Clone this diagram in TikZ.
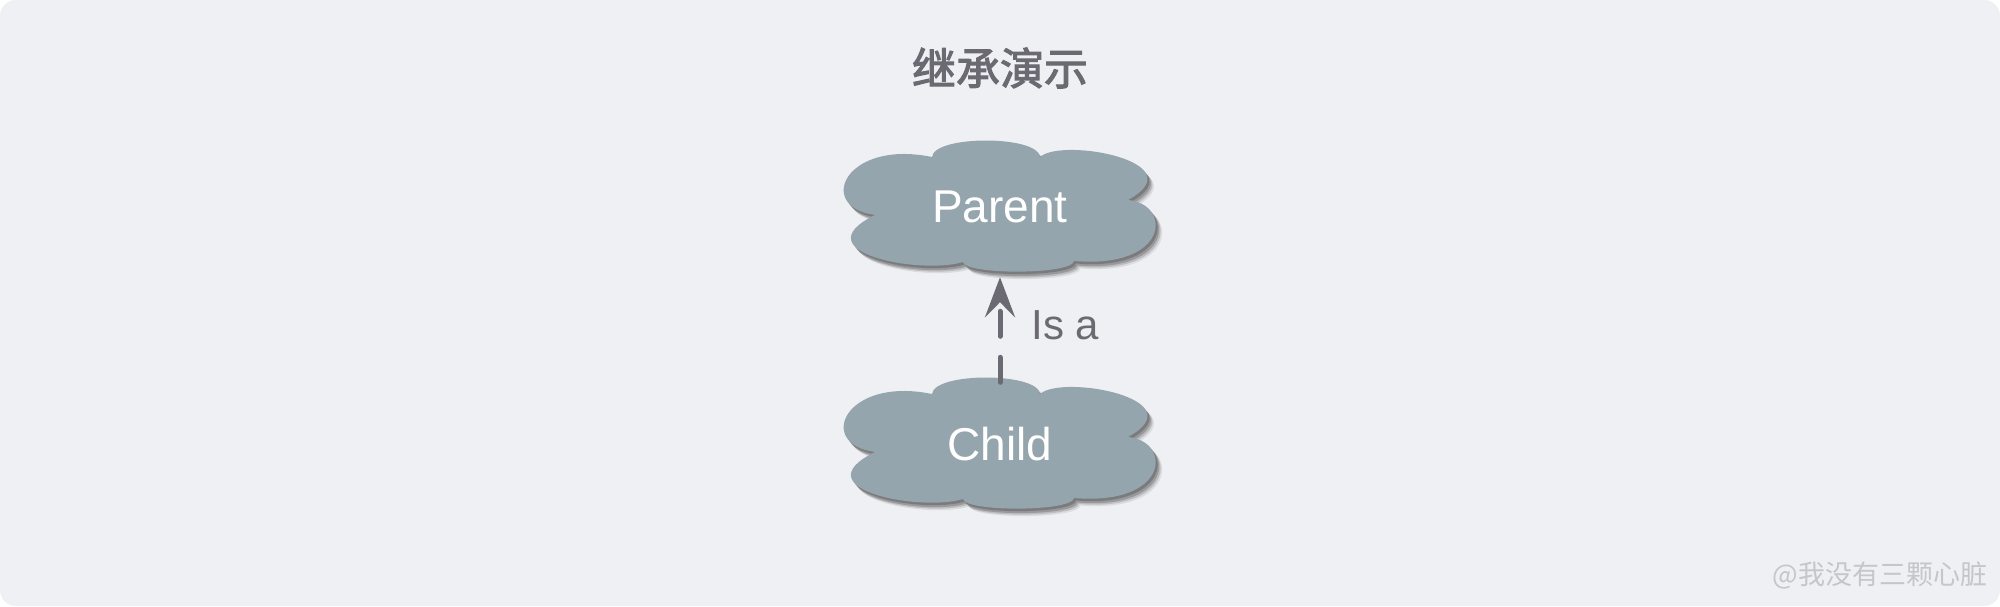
\documentclass[tikz,border=0pt]{standalone}
\usepackage{fontspec}
\setmainfont{Liberation Sans}
\newfontfamily\cjkfont{Noto Sans CJK SC}
\newfontfamily\cjktitle[FakeBold=2.5]{Noto Sans CJK SC}
\usetikzlibrary{arrows.meta}
\definecolor{bgc}{HTML}{EFF0F3}
\definecolor{cloudc}{HTML}{95A5AD}
\definecolor{inkc}{HTML}{6B6A73}
\definecolor{wmc}{HTML}{C4C6CC}
\tikzset{
  cloudpic/.pic={
    \foreach \dx/\dy/\op in {2/2.5/0.28, 3.5/4.5/0.26, 5/6/0.18, 6.5/7.5/0.1}{
      \fill[black!80, opacity=\op, shift={(\dx,\dy)}]
        (-68,-50) .. controls (-66,-72) and (38,-72) .. (40,-50)
        .. controls (62,-70) and (197,-45) .. (128,-7)
        .. controls (172,-3) and (170,62) .. (74,54)
        .. controls (72,68) and (-35,68) .. (-37,55)
        .. controls (-80,68) and (-200,45) .. (-125,8)
        .. controls (-185,0) and (-155,-68) .. (-68,-50) -- cycle;
    }
    \fill[cloudc]
        (-68,-50) .. controls (-66,-72) and (38,-72) .. (40,-50)
        .. controls (62,-70) and (197,-45) .. (128,-7)
        .. controls (172,-3) and (170,62) .. (74,54)
        .. controls (72,68) and (-35,68) .. (-37,55)
        .. controls (-80,68) and (-200,45) .. (-125,8)
        .. controls (-185,0) and (-155,-68) .. (-68,-50) -- cycle;
  },
  cloudtext/.style={font=\fontsize{46}{50}\selectfont, text=white, inner sep=0pt,
    minimum width=300pt, minimum height=130pt},
  isa/.style={draw=inkc, line width=5pt, line cap=round, dash pattern=on 25pt off 21pt,
    shorten <=-3.5pt, shorten >=5pt, -{Stealth[length=40pt,width=30pt,inset=15pt]}},
  isalabel/.style={font=\fontsize{42}{46}\selectfont, text=inkc, inner sep=0pt,
    anchor=west, xshift=29pt},
  titlestyle/.style={font=\cjktitle\fontsize{44}{48}\selectfont, text=inkc},
  wmstyle/.style={font=\cjkfont\fontsize{27}{30}\selectfont, text=wmc}
}
\begin{document}
\begin{tikzpicture}[x=1pt,y=-1pt]
\fill[white] (0,0) rectangle (2000,606);
\fill[bgc, rounded corners=16pt] (0,0) rectangle (2000,606);
\useasboundingbox (0,0) rectangle (2000,606);
\node[titlestyle] (title) at (1000,68) {继承演示};
\pic at (1000,207) {cloudpic};
\pic at (1000,444) {cloudpic};
\node[cloudtext] (parent) at (1000,207) {Parent};
\node[cloudtext] (child) at (1000,444) {Child};
\draw[isa] (child) -- node[isalabel, midway] (lbl) {Is a} (parent);
\node[wmstyle] (wm) at (1880,575) {@我没有三颗心脏};
\end{tikzpicture}
\end{document}
